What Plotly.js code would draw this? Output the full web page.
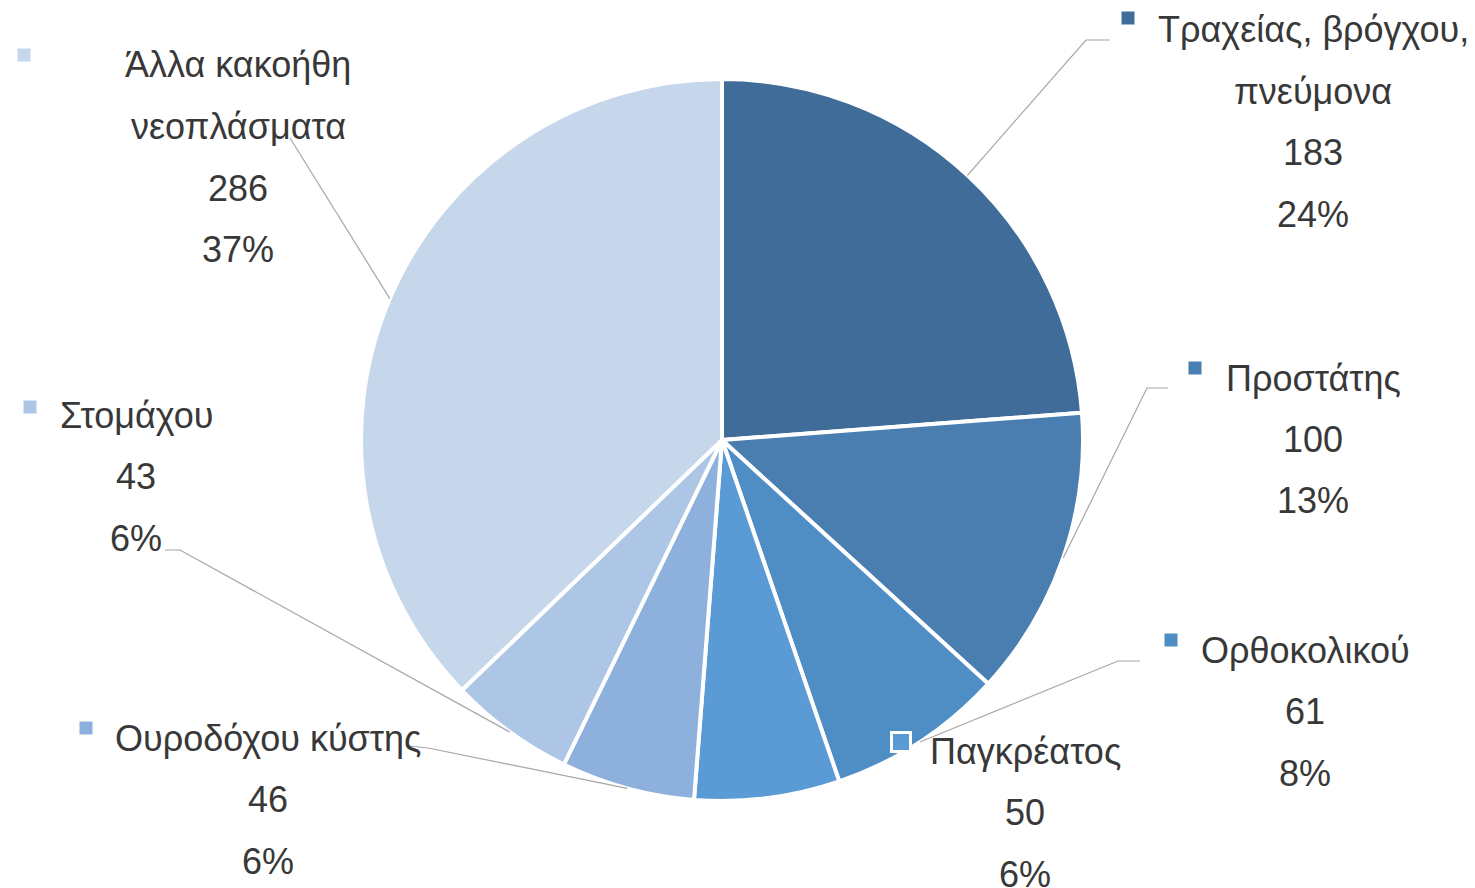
<!DOCTYPE html>
<html><head><meta charset="utf-8">
<script src="https://cdn.plot.ly/plotly-3.0.1.min.js"></script>
<style>html,body{margin:0;padding:0;background:#fff}#chart{width:1475px;height:888px}</style>
</head><body><div id="chart"></div>
<script>
// ---- data ----
const categories = ['Τραχείας, βρόγχου, πνεύμονα','Προστάτης','Ορθοκολικού','Παγκρέατος','Ουροδόχου κύστης','Στομάχου','Άλλα κακοήθη νεοπλάσματα'];
const labelLines = [['Τραχείας, βρόγχου,','πνεύμονα'],['Προστάτης'],['Ορθοκολικού'],['Παγκρέατος'],['Ουροδόχου κύστης'],['Στομάχου'],['Άλλα κακοήθη','νεοπλάσματα']];
const values = [183,100,61,50,46,43,286];
const percentLabels = ['24%','13%','8%','6%','6%','6%','37%'];
const colors = ['#3F6C98','#4A7EB1','#4F8DC5','#5B9BD5','#8DB1DC','#ADC6E6','#C6D7EC'];

// ---- layout (pixel positions) ----
const W = 1475, H = 888;
const CX = 722, CY = 440, R = 361;
const labelCenterX = [1313, 1313, 1305, 1025, 268, 136, 238];
const labelFirstY  = [30, 378, 650, 751, 738, 415, 65];
const lineGap = 61.5;
const markerPos = [[1128,18],[1195,368],[1171,640],[901,742],[86,728],[30,407],[24,55]];
const leaderElbow = [[[1110,40],[1086,40]],[[1168,388],[1147,388]],[[1140,661],[1118,661]],null,[[410,746],[428,748]],[[165,550],[180,550]],[[290,138]]];

const px = x => x / W, py = y => 1 - y / H;

const annotations = [];
const shapes = [];
const total = values.reduce((a,b)=>a+b,0);
let cum = 0;
values.forEach((v,i) => {
  const lines = labelLines[i].concat([String(v), percentLabels[i]]);
  lines.forEach((t,j) => {
    annotations.push({
      x: px(labelCenterX[i]), y: py(labelFirstY[i] + j*lineGap), xref:'paper', yref:'paper',
      text: t, showarrow:false, xanchor:'center', yanchor:'middle',
      font:{family:'Liberation Sans, Arial, sans-serif', size:36, color:'#383838'}
    });
  });
  // leader line from slice edge at mid angle
  const mid = (cum + v/2) / total * 2 * Math.PI;
  cum += v;
  if (leaderElbow[i]) {
    const sx = CX + R*Math.sin(mid), sy = CY - R*Math.cos(mid);
    const pts = leaderElbow[i].concat([[sx, sy]]);
    const d = pts.map((p,k)=> (k?'L':'M') + px(p[0]).toFixed(5) + ',' + py(p[1]).toFixed(5)).join(' ');
    shapes.push({type:'path', xref:'paper', yref:'paper', path:d, line:{color:'#A6A6A6', width:1.2}, layer:'above'});
  }
  const [mx,my] = markerPos[i], s = (i===3) ? 9.5 : 6.5;
  shapes.push({type:'rect', xref:'paper', yref:'paper', x0:px(mx-s), x1:px(mx+s), y0:py(my+s), y1:py(my-s),
    fillcolor: colors[i], line:{color: i===3 ? '#FFFFFF' : colors[i], width: i===3 ? 3 : 0}, layer:'above'});
});

const trace = {
  type:'pie', labels: categories, values: values, sort:false, direction:'clockwise', rotation:0,
  marker:{colors: colors, line:{color:'#FFFFFF', width:4}},
  textinfo:'none', hoverinfo:'label+value+percent', showlegend:false,
  domain:{x:[(CX-R)/W,(CX+R)/W], y:[1-(CY+R)/H, 1-(CY-R)/H]}
};

Plotly.newPlot('chart', [trace], {
  width: W, height: H, margin:{l:0,r:0,t:0,b:0},
  paper_bgcolor:'#FFFFFF', plot_bgcolor:'#FFFFFF', showlegend:false,
  annotations: annotations, shapes: shapes
}, {displayModeBar:false, staticPlot:true});
</script>
</body></html>
